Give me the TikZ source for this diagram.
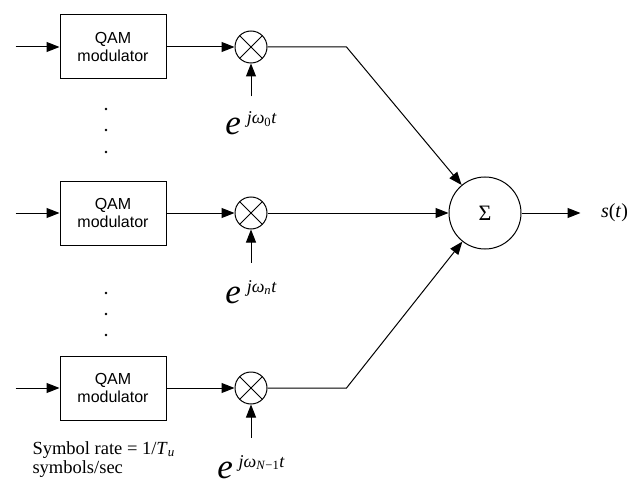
\documentclass[tikz,border=0pt]{standalone}
\usepackage{fontspec}
\setmainfont{Liberation Serif}
\setsansfont{Liberation Sans}
\usetikzlibrary{positioning,arrows.meta}
\newcommand{\osclabel}[1]{\textit{e}\,\raisebox{11pt}{\fontsize{18}{18}\selectfont\textit{jω}\textsubscript{#1}\textit{t}}}

\begin{document}
\begin{tikzpicture}[
    x=1pt, y=-1pt,
    qambox/.style={
        draw,
        minimum width=106pt,
        minimum height=64pt,
        align=center,
        font=\sffamily\fontsize{16}{18}\selectfont
      },
    mixer/.style={
        draw, circle,
        minimum size=32pt,
        inner sep=0pt,
        path picture={
          \draw (path picture bounding box.north west) -- (path picture bounding box.south east)
                (path picture bounding box.south west) -- (path picture bounding box.north east);
        }
      },
    adder/.style={
        draw, circle,
        minimum size=72pt,
        inner sep=0pt,
        font=\fontsize{22}{22}\selectfont
      },
    osc/.style={inner sep=0pt, font=\fontsize{35}{35}\selectfont},
    line width=1pt,
    >={Triangle[length=13pt,width=10pt]}
    ]

    \useasboundingbox (0,0) rectangle (631,489);

    % ============= MODULATEURS ==================

    % -------------------------------
    \node[qambox] (m1) at (113,47) {QAM\\modulator};
    \node[qambox, below=101pt of m1] (m2) {QAM\\modulator};
    \node[qambox, below=110pt of m2] (m3) {QAM\\modulator};
    % -------------------------------

    % -------------------------------
    \coordinate[left=44pt of m1.west] (in1);
    \coordinate[left=44pt of m2.west] (in2);
    \coordinate[left=44pt of m3.west] (in3);
    % -------------------------------

    % -------------------------------
    \foreach \y in {109,130,152,293,314,335}
      \fill (106,\y) circle (1.4pt);
    % -------------------------------

    % ============= MELANGEURS ==================

    % -------------------------------
    \node[mixer, right=68pt of m1] (x1) {};
    \node[mixer, right=68pt of m2] (x2) {};
    \node[mixer, right=68pt of m3] (x3) {};
    % -------------------------------

    % -------------------------------
    \coordinate[below=33pt of x1.south] (o1);
    \coordinate[below=33pt of x2.south] (o2);
    \coordinate[below=33pt of x3.south] (o3);

    \node[osc, below=88pt of x1.center, anchor=base] (e1) {\osclabel{0}};
    \node[osc, below=90pt of x2.center, anchor=base] (e2) {\osclabel{\textit{n}}};
    \node[osc, below=90pt of x3.center, anchor=base] (e3) {\osclabel{\textit{N}−1}};
    % -------------------------------

    % ============= SOMME ==================

    % -------------------------------
    \node[adder, right=181pt of x2] (S) {Σ};
    \coordinate[right=79pt of x1.east] (b1);
    \coordinate[right=79pt of x3.east] (b3);
    \coordinate[right=59pt of S.east] (out);
    \node[right=20pt of out, inner sep=0pt, font=\fontsize{20}{20}\selectfont] (st) {\textit{s}(\textit{t})};
    % -------------------------------

    % -------------------------------
    \node[anchor=north west, align=left, inner sep=0pt, font=\fontsize{18.5}{19}\selectfont] (rate) at (32,441) {
      Symbol rate = 1/\textit{T}\textsubscript{\textit{u}}\\
      symbols/sec
    };
    % -------------------------------

    % ============= LIGNES ==================
    \draw[->] (in1) -- (m1);
    \draw[->] (in2) -- (m2);
    \draw[->] (in3) -- (m3);
    \draw[->] (m1) -- (x1);
    \draw[->] (m2) -- (x2);
    \draw[->] (m3) -- (x3);
    \draw[->] (o1) -- (x1);
    \draw[->] (o2) -- (x2);
    \draw[->] (o3) -- (x3);
    \draw[->] (x1) -- (b1) -- (S);
    \draw[->] (x2) -- (S);
    \draw[->] (x3) -- (b3) -- (S);
    \draw[->] (S) -- (out);

  \end{tikzpicture}
\end{document}
